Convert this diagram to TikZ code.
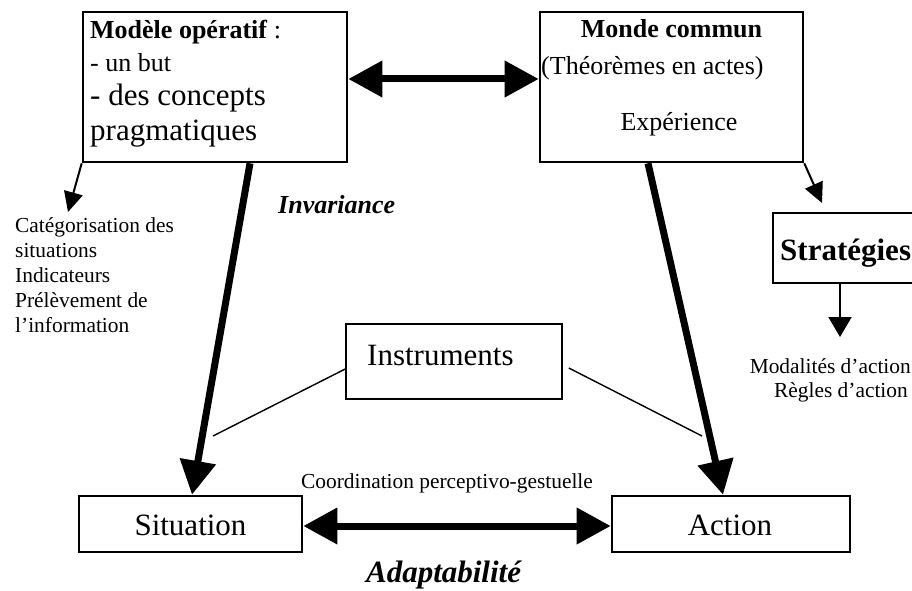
\documentclass[tikz,border=0pt]{standalone}
\usepackage{fontspec}
\setmainfont{Liberation Serif}
\usetikzlibrary{arrows.meta}
\begin{document}
\begin{tikzpicture}[x=1pt,y=-1pt,
  smallf/.style={font=\fontsize{21.4}{25}\selectfont},
  midf/.style={font=\fontsize{26}{30}\selectfont},
  bigf/.style={font=\fontsize{31}{36}\selectfont},
  txt/.style={inner sep=0pt},
  mainbox/.style={draw, line width=2.6pt, inner sep=0pt},
  thinbox/.style={draw, line width=1.6pt, inner sep=0pt},
  bigarrow/.style={line width=7pt, -{Triangle[length=34pt,width=35pt]}},
  bigdouble/.style={line width=7pt, {Triangle[length=34pt,width=35pt]}-{Triangle[length=34pt,width=35pt]}},
  smallarrow/.style={line width=2pt, -{Triangle[length=20pt,width=19pt]}},
  thinline/.style={line width=1.4pt}
]
\useasboundingbox (0,0) rectangle (912,591);
\clip (0,0) rectangle (912,591);

% boxes
\node[mainbox, minimum width=264pt, minimum height=150pt] (m1) at (215,87) {};
\node[mainbox, minimum width=263pt, minimum height=150pt] (m2) at (671.5,87) {};
\node[mainbox, minimum width=142pt, minimum height=70pt] (strat) at (844,248) {};
\node[thinbox, minimum width=216pt, minimum height=75pt] (inst) at (454,361.5) {};
\node[mainbox, minimum width=223pt, minimum height=56pt] (sit) at (190.5,524) {};
\node[mainbox, minimum width=238pt, minimum height=56pt] (act) at (731,524) {};

% box 1 text
\node[txt, midf, anchor=base west] (m1a) at (90,39) {\textbf{Modèle opératif} :};
\node[txt, midf, anchor=base west] (m1b) at (90,72) {- un but};
\node[txt, bigf, anchor=base west] (m1c) at (90,106) {- des concepts};
\node[txt, bigf, anchor=base west] (m1d) at (90,140) {pragmatiques};

% box 2 text
\node[txt, midf, anchor=base] (m2a) at (671.5,38) {\textbf{Monde commun}};
\node[txt, midf, anchor=base west] (m2b) at (541,75) {(Théorèmes en actes)};
\node[txt, midf, anchor=base] (m2c) at (679,131) {Expérience};

% other texts
\node[txt, bigf, anchor=base west] (stratt) at (780,260) {\textbf{Stratégies}};
\node[txt, bigf, anchor=base west] (instt) at (367,365) {Instruments};
\node[txt, bigf, anchor=base] (sitt) at (190.5,535) {Situation};
\node[txt, bigf, anchor=base] (actt) at (730,535) {Action};
\node[txt, midf, anchor=base west] (inv) at (278,213) {\textbf{\textit{Invariance}}};
\node[txt, bigf, anchor=base] (adapt) at (444,582) {\textbf{\textit{Adaptabilité}}};
\node[txt, smallf, anchor=base] (coord) at (447,488) {Coordination perceptivo-gestuelle};
\node[txt, smallf, anchor=north west, align=left] (cat) at (15,217.4)
  {Catégorisation des\\situations\\Indicateurs\\Prélèvement de\\l’information};
\node[txt, smallf, anchor=base east] (moda) at (911,373) {Modalités d’action};
\node[txt, smallf, anchor=base east] (regl) at (908,397) {Règles d’action};

% connector end points
\coordinate (c1) at (68,212);
\coordinate (c2) at (822,203);
\coordinate (c3) at (840,337);
\coordinate (c4) at (213,436);
\coordinate (c5) at (702,436);

% connectors
\draw[bigdouble] ([yshift=8pt]m1.east) -- ([yshift=8pt]m2.west);
\draw[bigdouble] ([yshift=-2pt]sit.east) -- ([yshift=-2pt]act.west);
\draw[bigarrow] ([xshift=35pt]m1.south) -- ([xshift=1.5pt]sit.north);
\draw[bigarrow] ([xshift=-23.5pt]m2.south) -- ([xshift=-8pt]act.north);
\draw[smallarrow] (m1.south west) -- (c1);
\draw[smallarrow] (m2.south east) -- (c2);
\draw[smallarrow, -{Triangle[length=20pt,width=23pt]}] ([xshift=-4pt]strat.south) -- (c3);
\draw[thinline] ([yshift=-7.5pt]inst.west) -- (c4);
\draw[thinline] ([xshift=6pt,yshift=-6.5pt]inst.east) -- (c5);
\end{tikzpicture}
\end{document}
